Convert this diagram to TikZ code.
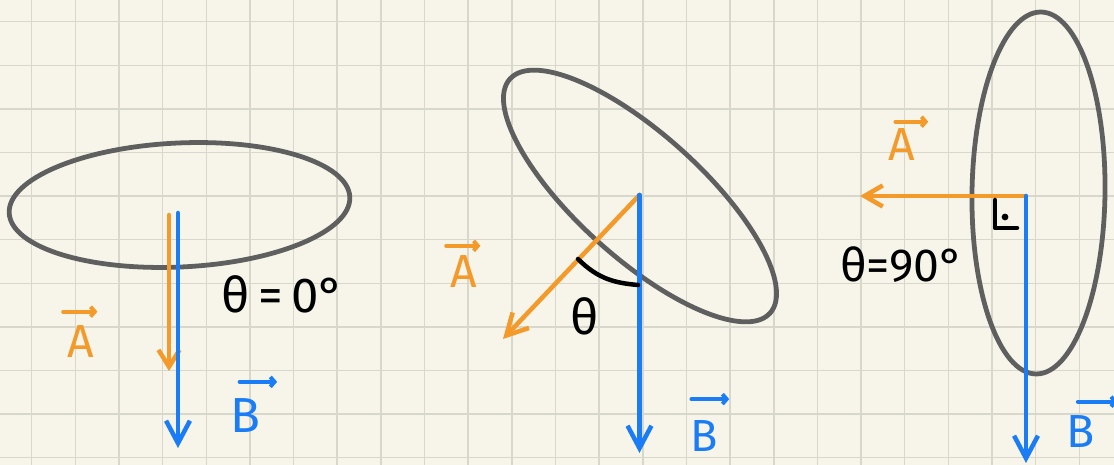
\documentclass[tikz,border=0pt]{standalone}
\usepackage{fontspec}
\setmainfont{Fira Sans}
\usetikzlibrary{arrows.meta}
\definecolor{paper}{HTML}{F7F5EA}
\definecolor{gridline}{HTML}{D8D7CC}
\definecolor{loopgray}{HTML}{5F5F5F}
\definecolor{vecA}{HTML}{F39A2B}
\definecolor{vecB}{HTML}{1A7DF5}
\begin{document}
\begin{tikzpicture}[
        x=0.025cm, y=-0.025cm,
        gridln/.style={draw=gridline, line width=1.1pt},
        loop/.style={draw=loopgray, line width=3.4pt},
        moment/.style={
            draw=vecA, line width=3.2pt, line cap=round,
            -{Straight Barb[length=12pt, width=15pt]}
        },
        field/.style={
            draw=vecB, line width=3.2pt, line cap=round,
            -{Straight Barb[length=16pt, width=17pt]}
        },
        vecmark/.style={
            line width=2.8pt, line cap=round,
            -{Straight Barb[length=3pt, width=7pt]}
        },
        anglemark/.style={draw=black, line width=3.2pt, line cap=round, line join=round},
        hand/.style={font=\fontsize{35}{38}\selectfont, inner sep=0pt},
        letA/.style={font=\fontsize{33}{36}\selectfont, text=vecA, inner sep=0pt},
        letB/.style={font=\fontsize{35}{38}\selectfont, text=vecB, inner sep=0pt}
    ]

    % Paper and grid
    \fill[paper] (0,0) rectangle (1114,465);
    \useasboundingbox (0,0) rectangle (1114,465);
    \foreach \gx in {0,...,24}
        \draw[gridln] ({31.7+43.65*\gx},0) -- ({31.7+43.65*\gx},465);
    \foreach \gy in {0,...,10}
        \draw[gridln] (0,{21.7+43.6*\gy}) -- (1114,{21.7+43.6*\gy});

    % Left: theta = 0
    \coordinate (O1) at (178,213);
    \coordinate (A1s) at (169,215);
    \coordinate (A1) at (169,371);
    \coordinate (B1) at (178,448);
    \draw[loop, rotate around={2.7:(179.5,205)}]
        (179.5,205) ellipse [x radius=170.5, y radius=62];
    \draw[moment] (A1s) -- (A1);
    \draw[field] (O1) -- (B1);
    \node[hand] (th1) at (283,294) {θ\,=\,0°};
    \node[letA] (lA1) at (81,342) {A};
    \draw[vecmark, draw=vecA] ([xshift=-3pt, yshift=10pt]lA1.north west)
        -- ([xshift=2pt, yshift=10pt]lA1.north east);
    \node[letB] (lB1) at (245,416) {B};
    \draw[vecmark, draw=vecB] ([xshift=7pt, yshift=12pt]lB1.north west)
        -- ([xshift=12pt, yshift=12pt]lB1.north east);

    % Middle: tilted loop
    \coordinate (O2) at (639.5,195);
    \coordinate (A2) at (503,339);
    \coordinate (B2) at (639.5,453);
    \draw[loop, rotate around={-42:(640,196)}]
        (640,196) ellipse [x radius=175, y radius=62];
    \draw[moment, -{Straight Barb[length=15pt, width=16pt]}] (O2) -- (A2);
    \draw[field] (O2) -- (B2);
    \draw[anglemark] (578,259) .. controls (598,279) and (615,283) .. (638,285);
    \node[hand] (th2) at (585,316) {θ};
    \node[letA] (lA2) at (464,272) {A};
    \draw[vecmark, draw=vecA] ([xshift=-3pt, yshift=7pt]lA2.north west)
        -- ([xshift=2pt, yshift=7pt]lA2.north east);
    \node[letB, font=\fontsize{32}{36}\selectfont] (lB2) at (704,436) {B};
    \draw[vecmark, draw=vecB] ([xshift=1pt, yshift=15pt]lB2.north west)
        -- ([xshift=8pt, yshift=15pt]lB2.north east);

    % Right: theta = 90
    \coordinate (O3) at (1026,196);
    \coordinate (A3) at (860,196);
    \coordinate (B3) at (1026,463);
    \draw[loop, rotate around={-0.8:(1038.5,193)}]
        (1038.5,193) ellipse [x radius=66.5, y radius=181];
    \draw[moment, -{Straight Barb[length=13pt, width=15pt]}] (O3) -- (A3);
    \draw[field] (O3) -- (B3);
    \draw[anglemark] (995,200) |- (1017,228);
    \fill (1005,217) circle (2.4pt);
    \node[hand, font=\fontsize{33}{36}\selectfont] (th3) at (902,265) {θ=90°};
    \node[letA] (lA3) at (902,145) {A};
    \draw[vecmark, draw=vecA] ([xshift=5pt, yshift=5pt]lA3.north west)
        -- ([xshift=9pt, yshift=5pt]lA3.north east);
    \node[letB, font=\fontsize{33}{36}\selectfont] (lB3) at (1081,432) {B};
    \draw[vecmark, draw=vecB] ([xshift=8pt, yshift=10pt]lB3.north west)
        -- ([xshift=16pt, yshift=10pt]lB3.north east);

\end{tikzpicture}
\end{document}
